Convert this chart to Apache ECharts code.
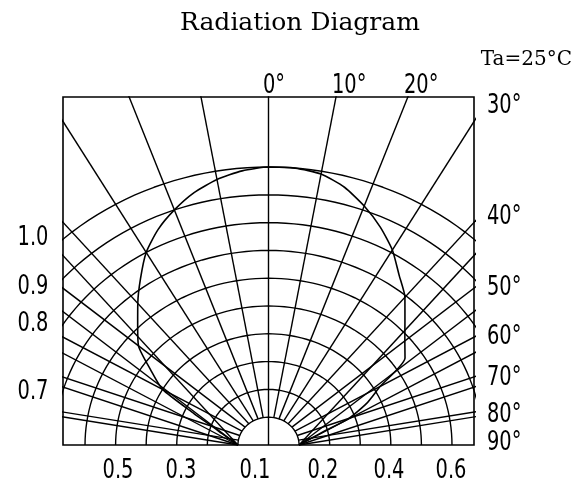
<!DOCTYPE html>
<html>
<head>
<meta charset="utf-8">
<script src="https://cdn.jsdelivr.net/npm/echarts@6/dist/echarts.min.js"></script>
<style>
  html, body { margin: 0; padding: 0; background: #fff; }
  #chart { width: 582px; height: 486px; }
</style>
</head>
<body>
<div id="chart"></div>
<script>
// axis extents in relative-intensity units (plot box is wider than tall)
const X_MAX = 0.672
const Y_MAX = 1.252

// grid rings and spokes
const RING_VALUES = [0.1, 0.2, 0.3, 0.4, 0.5, 0.6, 0.7, 0.8, 0.9, 1.0]
const SPOKE_ANGLES = [-80, -70, -60, -50, -40, -30, -20, -10, 10, 20, 30, 40, 50, 60, 70, 80]
const FAN_ANGLES = [40, 50, 60, 70, 80]

// radiation pattern (angle in degrees, relative intensity)
const CURVE_ANGLES = [
  -90, -85, -80, -75, -70, -65, -60, -55, -50, -45, -40, -35, -30, -25, -20, -15, -10, -5,
  0, 5, 10, 15, 20, 25, 30, 35, 40, 45, 50, 55, 60, 65, 70, 75, 80, 85, 90,
]
const CURVE_VALUES = [
  0.10, 0.113, 0.131, 0.157, 0.196, 0.27, 0.40, 0.47, 0.555, 0.605, 0.665, 0.73, 0.80, 0.855, 0.90, 0.94, 0.97, 0.99,
  1.0, 1.0, 0.99, 0.96, 0.915, 0.865, 0.81, 0.745, 0.694, 0.631, 0.582, 0.545, 0.422, 0.354, 0.28, 0.187, 0.142, 0.115, 0.10,
]

// labels
const TOP_LABELS = ["0°", "10°", "20°"]
const RIGHT_LABELS = ["30°", "40°", "50°", "60°", "70°", "80°", "90°"]
const LEFT_LABELS = ["1.0", "0.9", "0.8", "0.7"]
const BOTTOM_LABELS = ["0.5", "0.3", "0.1", "0.2", "0.4", "0.6"]

const rad = d => d * Math.PI / 180
const polar = (r, deg) => [r * Math.sin(rad(deg)), r * Math.cos(rad(deg))]

function ring(r) {
  const pts = []
  for (let a = -90; a <= 90; a += 2) pts.push(polar(r, a))
  return pts
}

const LINE = { color: "#000", width: 1.4 }

function lineSeries(data, extra) {
  return Object.assign({
    type: "line",
    data: data,
    showSymbol: false,
    symbol: "none",
    silent: true,
    clip: true,
    lineStyle: LINE,
  }, extra || {})
}

const series = []
RING_VALUES.forEach(r => series.push(lineSeries(ring(r))))
series.push(lineSeries([[0, 0], [0, 3]]))
SPOKE_ANGLES.forEach(a => series.push(lineSeries([polar(0.1, a), polar(3, a)])))
FAN_ANGLES.forEach(a => {
  const l = polar(0.1, -90), r = polar(0.1, 90)
  const dl = polar(3, -a), dr = polar(3, a)
  series.push(lineSeries([l, [l[0] + dl[0], l[1] + dl[1]]]))
  series.push(lineSeries([r, [r[0] + dr[0], r[1] + dr[1]]]))
})
series.push(lineSeries(
  CURVE_ANGLES.map((a, i) => polar(CURVE_VALUES[i], a)),
  { smooth: 0.2, lineStyle: { color: "#000", width: 1.6 } }
))

const LABEL_FONT = '"DejaVu Sans Condensed", "Liberation Sans", sans-serif'
const txt = (text, x, y, align, size, family, sx) => ({
  type: "text",
  x: x, y: y,
  scaleX: sx || 0.8,
  style: {
    text: text,
    fill: "#000",
    font: (size || 27) + "px " + (family || LABEL_FONT),
    textAlign: align || "center",
    textVerticalAlign: "middle",
  },
})

const topX = [268, 337, 409]
const rightY = [106, 217, 288, 337, 378, 415, 443]
const leftY = [238, 287, 324, 392]
const bottomX = [118, 181, 255, 323, 389, 451]

const graphics = [
  txt("Radiation Diagram", 300, 23, "center", 25, '"DejaVu Serif", serif', 1),
  txt("Ta=25°C", 572, 60, "right", 20, '"DejaVu Serif", serif', 1),
]
TOP_LABELS.forEach((t, i) => graphics.push(txt(t, topX[i] - 5, 86, "left")))
RIGHT_LABELS.forEach((t, i) => graphics.push(txt(t, 487, rightY[i], "left")))
LEFT_LABELS.forEach((t, i) => graphics.push(txt(t, 33, leftY[i], "center")))
BOTTOM_LABELS.forEach((t, i) => graphics.push(txt(t, bottomX[i], 471, "center")))

const chart = echarts.init(document.getElementById("chart"))
chart.setOption({
  animation: false,
  grid: {
    left: 63, top: 97, width: 411, height: 348,
    show: true, borderColor: "#000", borderWidth: 1.6, backgroundColor: "#fff",
  },
  xAxis: {
    type: "value", min: -X_MAX, max: X_MAX,
    axisLine: { show: false }, axisTick: { show: false },
    axisLabel: { show: false }, splitLine: { show: false },
  },
  yAxis: {
    type: "value", min: 0, max: Y_MAX,
    axisLine: { show: false }, axisTick: { show: false },
    axisLabel: { show: false }, splitLine: { show: false },
  },
  series: series,
  graphic: graphics,
})
</script>
</body>
</html>
